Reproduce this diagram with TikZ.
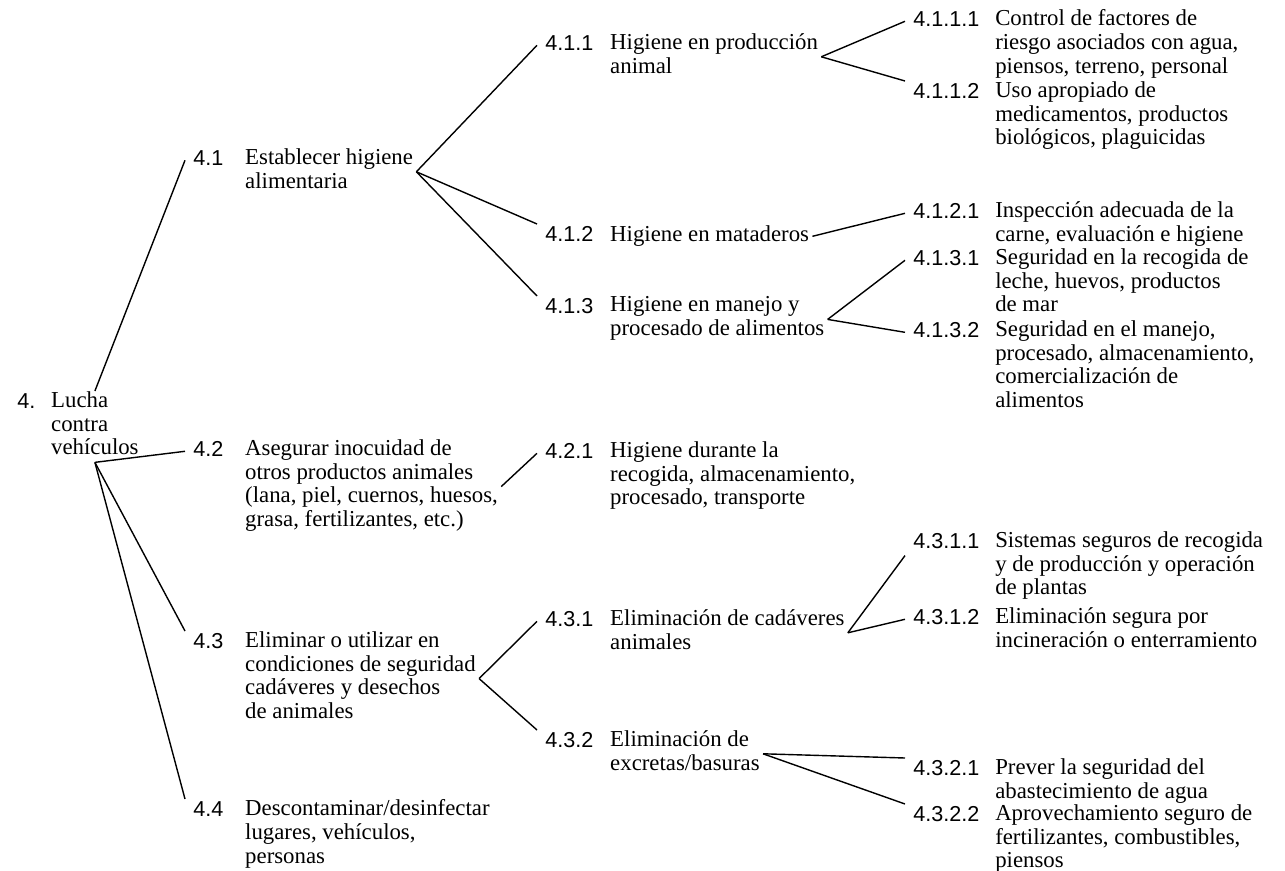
\documentclass[tikz,border=0pt]{standalone}
\usepackage{fontspec}
\setmainfont{Liberation Serif}
\setsansfont{Liberation Sans}
\usetikzlibrary{positioning}

\tikzset{
  num/.style={anchor=north west, inner xsep=4pt, inner ysep=0pt,
    font=\sffamily\fontsize{10.8pt}{11.9pt}\selectfont,
    execute at begin node=\strut},
  txt/.style={anchor=north west, inner xsep=1.5pt, inner ysep=0pt, align=left,
    font=\fontsize{11.4pt}{11.9pt}\selectfont,
    execute at begin node=\strut, execute at end node=\strut},
  link/.style={line width=0.7pt},
}

\begin{document}
\begin{tikzpicture}[x=0.5pt, y=-0.5pt]
    \useasboundingbox (0,0) rectangle (1285,871);

    % Root
    \node[num] (n4) at (9,391) {4.};
    \node[txt, right=2pt of n4.north east, anchor=north west] (t4) {Lucha\\contra\\vehículos};

    % Level 1
    \node[num] (n41) at (185,148) {4.1};
    \node[txt, right=5pt of n41.north east, anchor=north west] (t41) {Establecer higiene\\alimentaria};
    \node[num] (n42) at (185,439) {4.2};
    \node[txt, right=5pt of n42.north east, anchor=north west] (t42) {Asegurar inocuidad de\\otros productos animales\\(lana, piel, cuernos, huesos,\\grasa, fertilizantes, etc.)};
    \node[num] (n43) at (185,631) {4.3};
    \node[txt, right=5pt of n43.north east, anchor=north west] (t43) {Eliminar o utilizar en\\condiciones de seguridad\\cadáveres y desechos\\de animales};
    \node[num] (n44) at (185,799) {4.4};
    \node[txt, right=5pt of n44.north east, anchor=north west] (t44) {Descontaminar/desinfectar\\lugares, vehículos,\\personas};

    % Level 2
    \node[num] (n411) at (537,33) {4.1.1};
    \node[txt, right=2.5pt of n411.north east, anchor=north west] (t411) {Higiene en producción\\animal};
    \node[num] (n412) at (537,224) {4.1.2};
    \node[txt, right=2.5pt of n412.north east, anchor=north west] (t412) {Higiene en mataderos};
    \node[num] (n413) at (537,296) {4.1.3};
    \node[txt, right=2.5pt of n413.north east, anchor=north west] (t413) {Higiene en manejo y\\procesado de alimentos};
    \node[num] (n421) at (537,441) {4.2.1};
    \node[txt, right=2.5pt of n421.north east, anchor=north west] (t421) {Higiene durante la\\recogida, almacenamiento,\\procesado, transporte};
    \node[num] (n431) at (537,609) {4.3.1};
    \node[txt, right=2.5pt of n431.north east, anchor=north west] (t431) {Eliminación de cadáveres\\animales};
    \node[num] (n432) at (537,730) {4.3.2};
    \node[txt, right=2.5pt of n432.north east, anchor=north west] (t432) {Eliminación de\\excretas/basuras};

    % Level 3
    \node[num] (n4111) at (905,9) {4.1.1.1};
    \node[txt, right=2pt of n4111.north east, anchor=north west] (t4111) {Control de factores de\\riesgo asociados con agua,\\piensos, terreno, personal};
    \node[num] (n4112) at (905,81) {4.1.1.2};
    \node[txt, right=2pt of n4112.north east, anchor=north west] (t4112) {Uso apropiado de\\medicamentos, productos\\biológicos, plaguicidas};
    \node[num] (n4121) at (905,201) {4.1.2.1};
    \node[txt, right=2pt of n4121.north east, anchor=north west] (t4121) {Inspección adecuada de la\\carne, evaluación e higiene};
    \node[num] (n4131) at (905,248) {4.1.3.1};
    \node[txt, right=2pt of n4131.north east, anchor=north west] (t4131) {Seguridad en la recogida de\\leche, huevos, productos\\de mar};
    \node[num] (n4132) at (905,320) {4.1.3.2};
    \node[txt, right=2pt of n4132.north east, anchor=north west] (t4132) {Seguridad en el manejo,\\procesado, almacenamiento,\\comercialización de\\alimentos};
    \node[num] (n4311) at (905,531) {4.3.1.1};
    \node[txt, right=2pt of n4311.north east, anchor=north west] (t4311) {Sistemas seguros de recogida\\y de producción y operación\\de plantas};
    \node[num] (n4312) at (905,607) {4.3.1.2};
    \node[txt, right=2pt of n4312.north east, anchor=north west] (t4312) {Eliminación segura por\\incineración o enterramiento};
    \node[num] (n4321) at (905,758) {4.3.2.1};
    \node[txt, right=2pt of n4321.north east, anchor=north west] (t4321) {Prever la seguridad del\\abastecimiento de agua};
    \node[num] (n4322) at (905,804) {4.3.2.2};
    \node[txt, right=2pt of n4322.north east, anchor=north west] (t4322) {Aprovechamiento seguro de\\fertilizantes, combustibles,\\piensos};

    % Branches from the root
    \draw[link] (t4.north) -- (n41.west);
    \draw[link] (t4.south) -- (n42.west);
    \draw[link] (t4.south) -- (n43.north west);
    \draw[link] (t4.south) -- (n44.north west);

    % Branches from level 1
    \draw[link] (t41.east) -- (n411.west);
    \draw[link] (t41.east) -- (n412.north west);
    \draw[link] (t41.east) -- (n413.north west);
    \draw[link] (t42.east) -- (n421.west);
    \draw[link] (t43.east) -- (n431.west);
    \draw[link] (t43.east) -- (n432.north west);

    % Branches from level 2
    \draw[link] (t411.east) -- (n4111.west);
    \draw[link] (t411.east) -- (n4112.north west);
    \draw[link] (t412.east) -- (n4121.west);
    \draw[link] (t413.east) -- (n4131.west);
    \draw[link] (t413.east) -- (n4132.west);
    \draw[link] (t431.east) -- (n4311.south west);
    \draw[link] (t431.east) -- (n4312.west);
    \draw[link] (t432.east) -- (n4321.north west);
    \draw[link] (t432.east) -- (n4322.north west);
\end{tikzpicture}
\end{document}
